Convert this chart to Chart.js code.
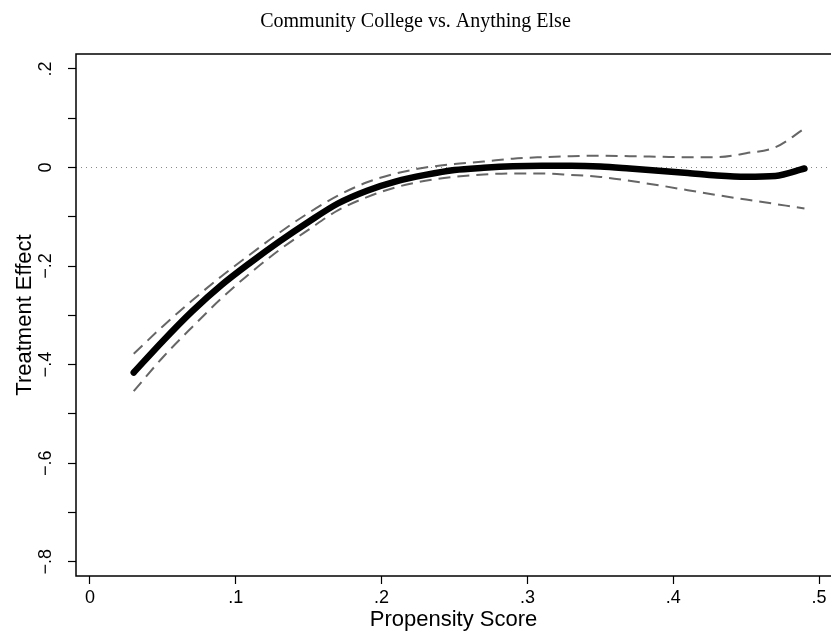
<!DOCTYPE html>
<html>
<head>
<meta charset="utf-8">
<title>Community College vs. Anything Else</title>
<script src="https://cdn.jsdelivr.net/npm/chart.js@4"></script>
<style>
  html, body { margin: 0; padding: 0; background: #fff; }
  #wrap { width: 831px; height: 638px; position: relative; }
</style>
</head>
<body>
<div id="wrap"><canvas id="grafico"></canvas></div>
<script>
// Datos
const propensity = [0.03, 0.05, 0.07, 0.09, 0.11, 0.13, 0.15, 0.17, 0.19, 0.21, 0.23, 0.25,
                    0.27, 0.29, 0.31, 0.33, 0.35, 0.37, 0.39, 0.41, 0.43, 0.45, 0.47, 0.49];
const effect = [-0.416, -0.352, -0.292, -0.239, -0.193, -0.150, -0.110, -0.073, -0.047, -0.028, -0.015, -0.005,
                -0.0005, 0.0025, 0.0035, 0.0035, 0.002, -0.002, -0.0065, -0.011, -0.016, -0.0185, -0.017, -0.002];
const upperBand = [-0.378, -0.322, -0.270, -0.221, -0.176, -0.132, -0.092, -0.057, -0.030, -0.012, 0.000, 0.007,
                   0.012, 0.018, 0.021, 0.023, 0.024, 0.023, 0.022, 0.021, 0.021, 0.029, 0.041, 0.079];
const lowerBand = [-0.454, -0.385, -0.324, -0.266, -0.214, -0.167, -0.126, -0.087, -0.060, -0.040, -0.027, -0.019,
                   -0.014, -0.012, -0.012, -0.015, -0.019, -0.027, -0.036, -0.046, -0.056, -0.065, -0.074, -0.083];

const xTicks = [0, 0.1, 0.2, 0.3, 0.4, 0.5];
const xTickLabels = ["0", ".1", ".2", ".3", ".4", ".5"];
const yTicks = [-0.8, -0.7, -0.6, -0.5, -0.4, -0.3, -0.2, -0.1, 0, 0.1, 0.2];
const yTickLabels = ["\u2212.8", "", "\u2212.6", "", "\u2212.4", "", "\u2212.2", "", "0", "", ".2"];

const xMin = -0.0096, xMax = 0.5082;
const yMin = -0.829, yMax = 0.2304;

//Junta x con y para cada serie
function toPoints(ys) {
  return propensity.map((x, i) => ({ x: x, y: ys[i] }));
}

//Marco del area del grafico
const framePlugin = {
  id: "frame",
  afterDraw(chart) {
    const { ctx, chartArea } = chart;
    ctx.save();
    ctx.strokeStyle = "#000";
    ctx.lineWidth = 1.5;
    ctx.strokeRect(chartArea.left, chartArea.top, chartArea.right - chartArea.left + 4, chartArea.bottom - chartArea.top);
    ctx.restore();
  },
};

const axisFont = { family: "'Liberation Sans', Arial, sans-serif", size: 18 };
const titleFont = { family: "'Liberation Sans', Arial, sans-serif", size: 22 };

new Chart(document.getElementById("grafico"), {
  type: "line",
  data: {
    datasets: [
      {
        data: toPoints(effect),
        borderColor: "#000",
        borderWidth: 6.5,
        borderCapStyle: "round",
        borderJoinStyle: "round",
        cubicInterpolationMode: "monotone",
        pointRadius: 0,
        order: 1,
      },
      {
        data: toPoints(upperBand),
        borderColor: "#666",
        borderWidth: 2,
        borderDash: [12, 7],
        cubicInterpolationMode: "monotone",
        pointRadius: 0,
        order: 2,
      },
      {
        data: toPoints(lowerBand),
        borderColor: "#666",
        borderWidth: 2,
        borderDash: [12, 7],
        cubicInterpolationMode: "monotone",
        pointRadius: 0,
        order: 2,
      },
      {
        data: [{ x: xMin, y: 0 }, { x: xMax, y: 0 }],
        borderColor: "#888",
        borderWidth: 1,
        borderDash: [1, 4],
        pointRadius: 0,
        order: 3,
      },
    ],
  },
  options: {
    responsive: true,
    maintainAspectRatio: false,
    animation: false,
    layout: { padding: 0 },
    plugins: {
      legend: { display: false },
      tooltip: { enabled: false },
      title: {
        display: true,
        text: "Community College vs. Anything Else",
        color: "#000",
        font: { family: "'Liberation Serif', 'Times New Roman', serif", size: 20, weight: "normal" },
        padding: { top: 10, bottom: 20 },
      },
    },
    scales: {
      x: {
        type: "linear",
        min: xMin,
        max: xMax,
        afterBuildTicks: (scale) => { scale.ticks = xTicks.map((v) => ({ value: v })); },
        afterFit: (scale) => { scale.height = 62; scale.paddingLeft = 0; scale.paddingRight = 0; },
        ticks: {
          color: "#000",
          font: axisFont,
          padding: 3,
          maxRotation: 0,
          callback: (value, index) => xTickLabels[index],
        },
        grid: { drawOnChartArea: false, drawTicks: true, tickLength: 8, tickColor: "#000", tickWidth: 1.2 },
        border: { display: false },
        title: { display: true, text: "Propensity Score", color: "#000", font: titleFont, padding: { top: 0, bottom: 5 } },
      },
      y: {
        type: "linear",
        min: yMin,
        max: yMax,
        afterBuildTicks: (scale) => { scale.ticks = yTicks.map((v) => ({ value: v })); },
        afterFit: (scale) => { scale.width = 76; scale.paddingTop = 0; scale.paddingBottom = 0; },
        ticks: {
          color: "#000",
          font: axisFont,
          padding: 9,
          minRotation: 90,
          maxRotation: 90,
          crossAlign: "center",
          callback: (value, index) => yTickLabels[index],
        },
        grid: { drawOnChartArea: false, drawTicks: true, tickLength: 8, tickColor: "#000", tickWidth: 1.2 },
        border: { display: false },
        title: { display: true, text: "Treatment Effect", color: "#000", font: titleFont, padding: { top: 12, bottom: 0 } },
      },
    },
  },
  plugins: [framePlugin],
});
</script>
</body>
</html>
